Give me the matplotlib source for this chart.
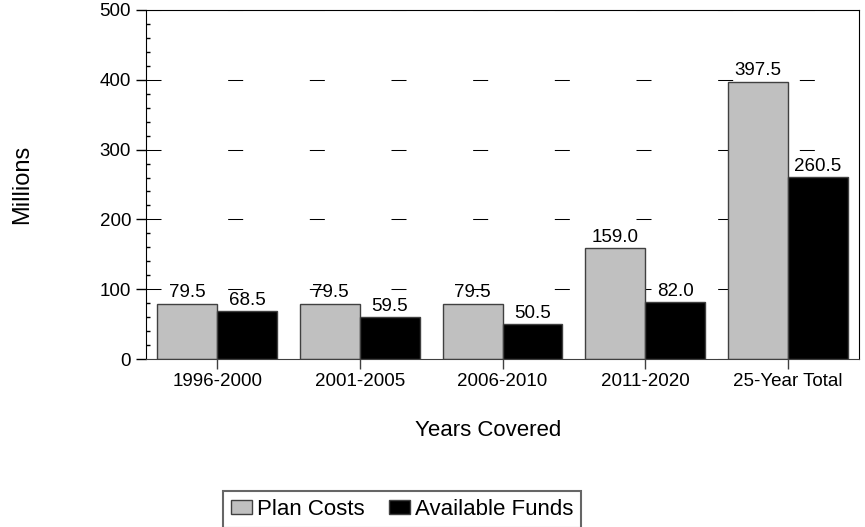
import numpy as np
import matplotlib
matplotlib.use('Agg')
from matplotlib import pyplot as plt
from matplotlib.ticker import MultipleLocator

plt.rcParams['font.family'] = ['Liberation Sans', 'DejaVu Sans']
plt.rcParams['lines.scale_dashes'] = False

# data
periods = ['1996-2000', '2001-2005', '2006-2010', '2011-2020', '25-Year Total']
plan_costs = [79.5, 79.5, 79.5, 159.0, 397.5]
available_funds = [68.5, 59.5, 50.5, 82.0, 260.5]

fig = plt.figure(figsize=(8.65, 5.27), dpi=100)
ax = fig.add_axes([146 / 865, 1 - 359 / 527, 713 / 865, 349 / 527])

x = np.arange(len(periods))
w = 0.42
b1 = ax.bar(x - w / 2, plan_costs, w, color='#c0c0c0', edgecolor='#404040', linewidth=1, label='Plan Costs', zorder=2)
b2 = ax.bar(x + w / 2, available_funds, w, color='black', edgecolor='#404040', linewidth=1, label='Available Funds', zorder=2)

# value labels above bars
for bars, vals in ((b1, plan_costs), (b2, available_funds)):
    for rect, v in zip(bars, vals):
        ax.annotate(f'{v:.1f}', (rect.get_x() + rect.get_width() / 2, v),
                    xytext=(0, 1.5), textcoords='offset points',
                    ha='center', va='bottom', fontsize=13.5, zorder=3)

ax.set_xlim(-0.5, len(periods) - 0.5)
ax.set_ylim(0, 500)
ax.set_xticks(x)
ax.set_xticklabels(periods, fontsize=13.5)
ax.yaxis.set_major_locator(MultipleLocator(100))
ax.yaxis.set_minor_locator(MultipleLocator(20))
ax.tick_params(axis='y', which='major', direction='out', length=7.2, width=1, pad=3.5, labelsize=13.5)
ax.tick_params(axis='y', which='minor', direction='in', length=3, width=1)
ax.tick_params(axis='x', which='major', direction='out', length=7.2, width=1, pad=3, color='#404040')

# long-dash horizontal grid
ax.set_axisbelow(True)
ax.yaxis.grid(True, color='black', linewidth=0.75, linestyle=(0, (10.8, 48)))

for side in ['left', 'top', 'right']:
    ax.spines[side].set_color('black')
ax.spines['bottom'].set_color('#404040')

fig.text(22 / 865, 1 - 184 / 527, 'Millions', rotation=90, ha='center', va='center', fontsize=17)
fig.text(488 / 865, 1 - 430 / 527, 'Years Covered', ha='center', va='center', fontsize=16)

leg = fig.legend(handles=[b1, b2], loc='upper left', bbox_to_anchor=(223 / 865, 1 - 491 / 527),
                 ncol=2, fontsize=16, frameon=True, fancybox=False, shadow=False,
                 handlelength=0.95, handleheight=0.6, handletextpad=0.22, columnspacing=1.1,
                 borderpad=0.35, borderaxespad=0)
leg.get_frame().set_edgecolor('#404040')
leg.get_frame().set_linewidth(1.5)

fig.savefig('out.png', dpi=100)
